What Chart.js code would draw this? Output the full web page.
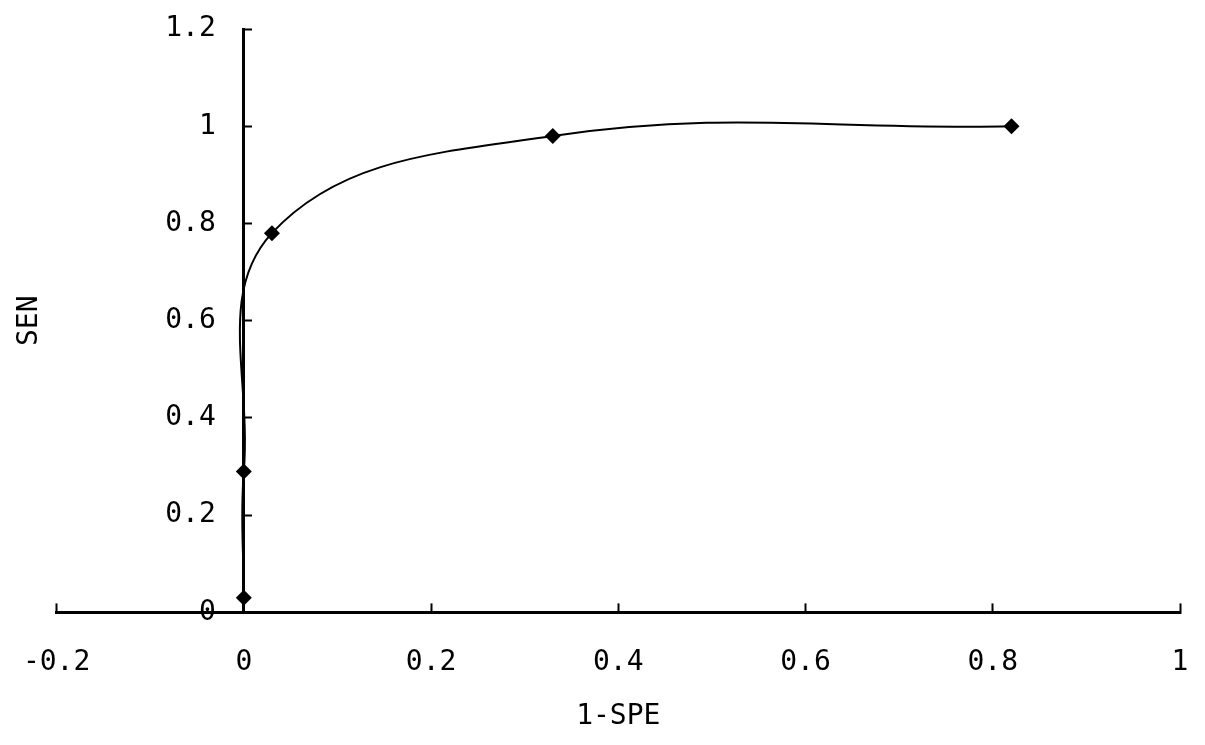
<!DOCTYPE html>
<html>
<head>
<meta charset="utf-8">
<script src="https://cdn.jsdelivr.net/npm/chart.js@4/dist/chart.umd.min.js"></script>
<style>
  html, body { margin: 0; padding: 0; background: #ffffff; }
  #wrap { width: 1205px; height: 745px; position: relative; }
</style>
</head>
<body>
<div id="wrap"><canvas id="c" width="1205" height="745"></canvas></div>
<script>
// ---- data ----
const oneMinusSpe = [0, 0, 0.03, 0.33, 0.82];
const sensitivity = [0.03, 0.29, 0.78, 0.98, 1.0];
const xTickValues = [-0.2, 0, 0.2, 0.4, 0.6, 0.8, 1];
const xTickLabels = ['-0.2', '0', '0.2', '0.4', '0.6', '0.8', '1'];
const yTickValues = [0, 0.2, 0.4, 0.6, 0.8, 1, 1.2];
const yTickLabels = ['0', '0.2', '0.4', '0.6', '0.8', '1', '1.2'];
const xTitle = '1-SPE';
const yTitle = 'SEN';

const points = oneMinusSpe.map((x, i) => ({ x: x, y: sensitivity[i] }));
const FONT = { family: '"DejaVu Sans Mono", monospace', size: 28 };
const INK = '#000000';
const Y_LABEL_ANCHOR = -0.03;  // x position (data units) of the right edge of the y tick labels
const X_LABEL_ANCHOR = -0.068; // y position (data units) of the top of the x tick label boxes

new Chart(document.getElementById('c'), {
  type: 'line',
  data: {
    datasets: [{
      data: points,
      xAxisID: 'x',
      yAxisID: 'y',
      borderColor: INK,
      borderWidth: 2,
      backgroundColor: INK,
      pointStyle: 'rectRot',
      pointRadius: 8,
      pointHoverRadius: 8,
      pointBackgroundColor: INK,
      pointBorderColor: INK,
      pointBorderWidth: 0,
      tension: 0.4,
      fill: false,
      clip: false
    }]
  },
  options: {
    responsive: false,
    animation: false,
    events: [],
    layout: { padding: { left: 13, right: 25, top: 29, bottom: 11 } },
    plugins: { legend: { display: false }, tooltip: { enabled: false }, title: { display: false } },
    scales: {
      x: {
        type: 'linear',
        position: 'bottom',
        min: -0.2,
        max: 1,
        afterBuildTicks: (s) => { s.ticks = xTickValues.map(v => ({ value: v })); },
        border: { display: true, color: INK, width: 3 },
        grid: { display: true, drawOnChartArea: false, drawTicks: true, tickLength: -9, tickWidth: 2, tickColor: INK, color: INK },
        ticks: { display: false, padding: 0 },
        title: { display: true, text: xTitle, color: INK, font: FONT, padding: { top: 97, bottom: 0 } }
      },
      xl: {
        type: 'linear',
        position: { y: X_LABEL_ANCHOR },
        min: -0.2,
        max: 1,
        afterBuildTicks: (s) => { s.ticks = xTickValues.map(v => ({ value: v })); },
        border: { display: false },
        grid: { display: false, drawTicks: false },
        ticks: {
          autoSkip: false, maxRotation: 0, padding: 0, color: INK, font: FONT,
          callback: (v, i) => xTickLabels[i]
        }
      },
      y: {
        type: 'linear',
        position: { x: 0 },
        min: 0,
        max: 1.2,
        afterBuildTicks: (s) => { s.ticks = yTickValues.map(v => ({ value: v })); },
        border: { display: true, color: INK, width: 3 },
        grid: { display: true, drawOnChartArea: false, drawTicks: true, tickLength: -10, tickWidth: 2, tickColor: INK, color: INK },
        ticks: { display: false, padding: 0 }
      },
      yl: {
        type: 'linear',
        position: { x: Y_LABEL_ANCHOR },
        min: 0,
        max: 1.2,
        afterBuildTicks: (s) => { s.ticks = yTickValues.map(v => ({ value: v })); },
        border: { display: false },
        grid: { display: false, drawTicks: false },
        ticks: {
          autoSkip: false, padding: 0, color: INK, font: FONT,
          callback: (v, i) => yTickLabels[i]
        }
      },
      y2: {
        type: 'linear',
        position: 'left',
        min: 0,
        max: 1.2,
        border: { display: false },
        grid: { display: false, drawTicks: false },
        ticks: { display: false },
        title: { display: true, text: yTitle, color: INK, font: FONT, padding: { top: 0, bottom: 10 } }
      }
    }
  }
});
</script>
</body>
</html>
